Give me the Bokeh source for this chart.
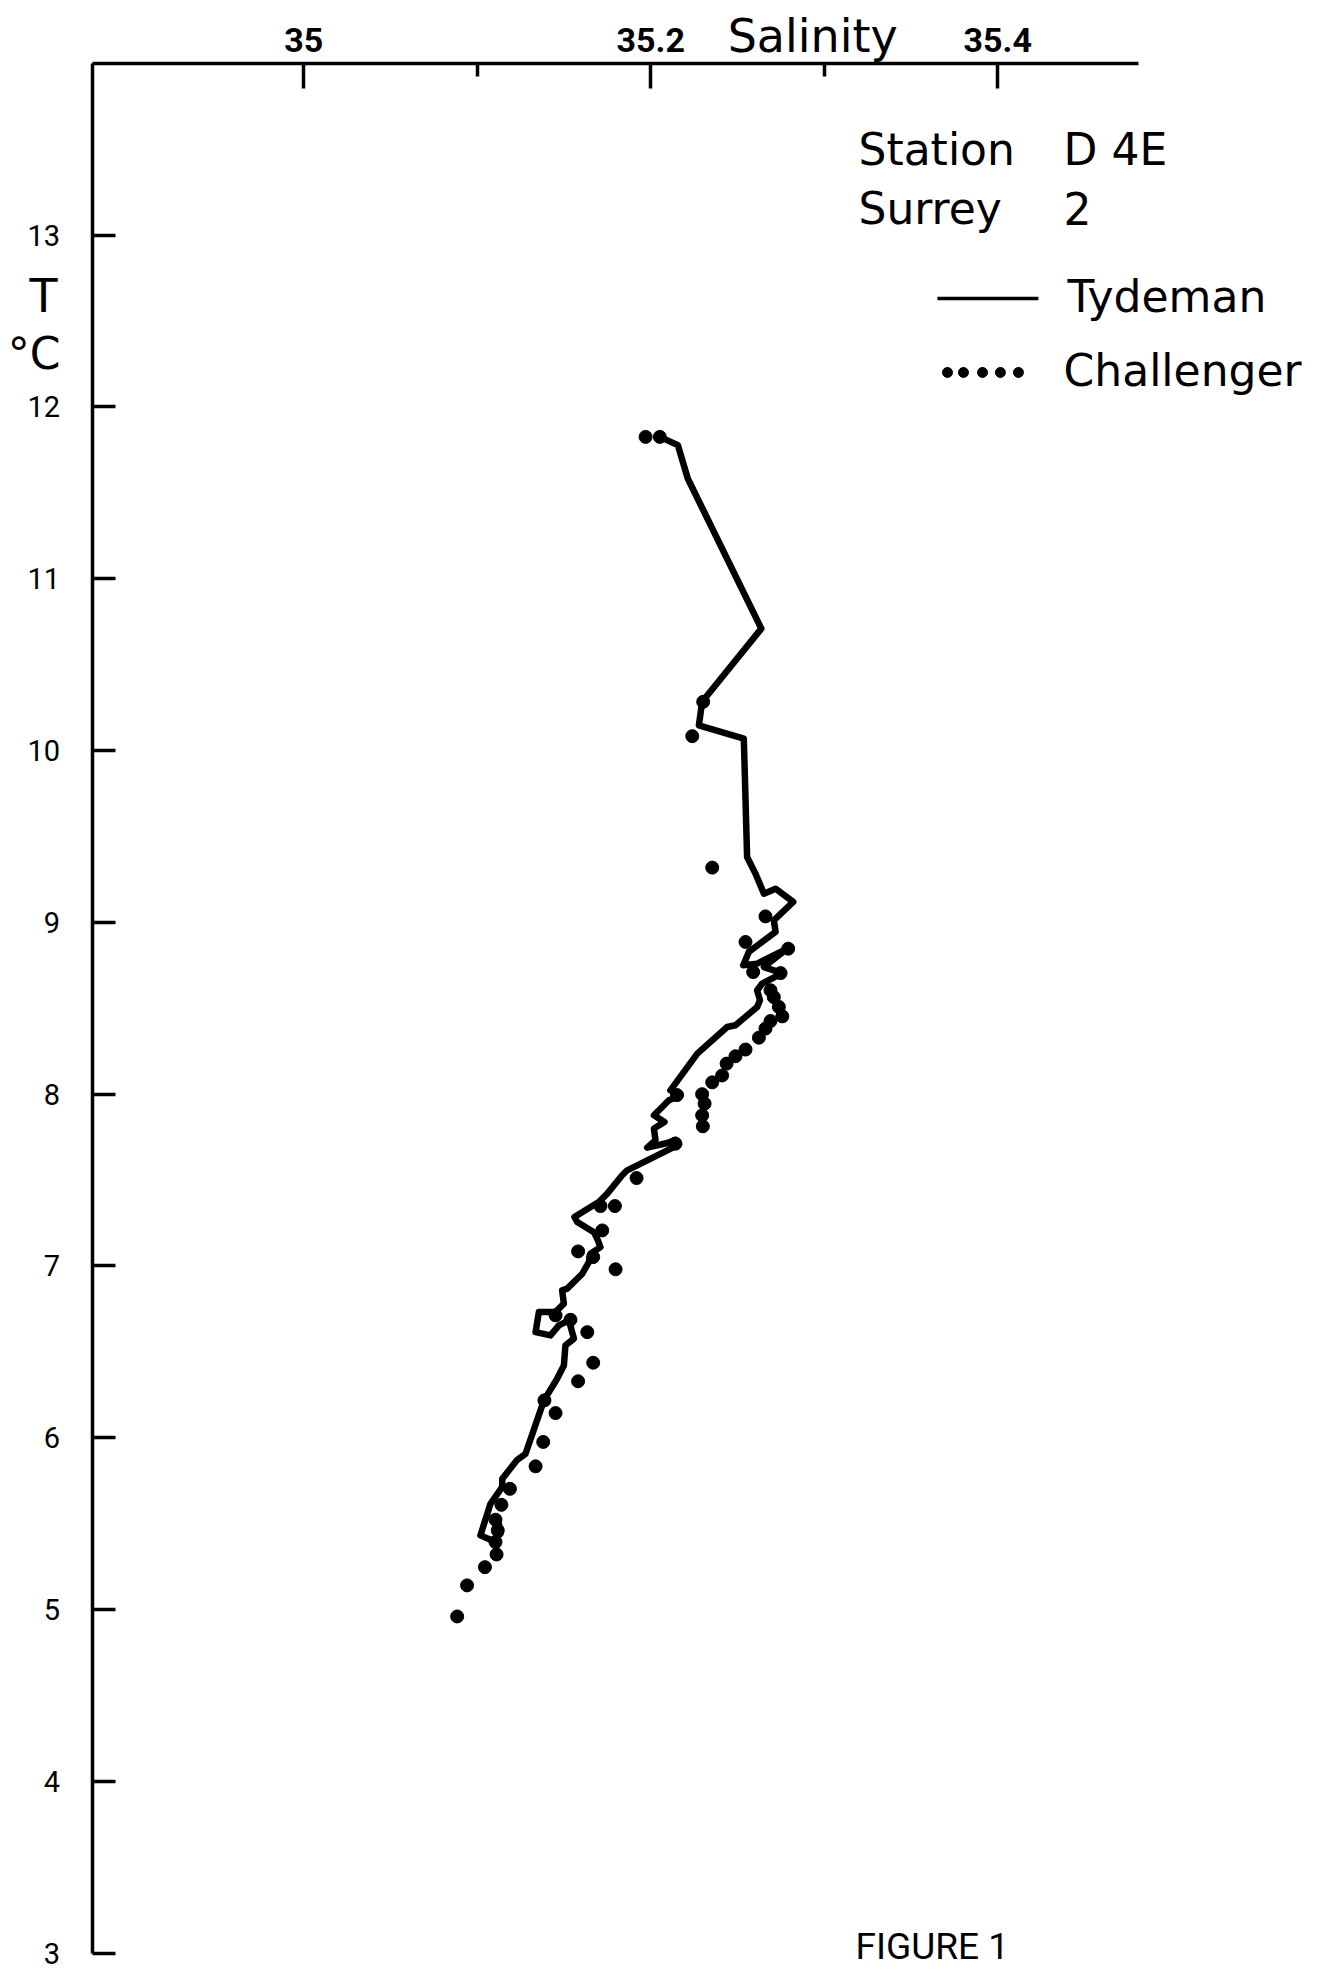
from bokeh.plotting import figure
from bokeh.models import Range1d, FixedTicker, Label, LinearAxis
from bokeh.embed import file_html
from bokeh.resources import INLINE

# ---------------- data ----------------
tydeman_salinity = [35.2052, 35.2156, 35.2213, 35.2637, 35.2296, 35.2277, 35.2536, 35.2538,
                    35.2555, 35.2603, 35.2652, 35.2719, 35.2821, 35.2709, 35.2719, 35.2565,
                    35.2533, 35.2613, 35.2786, 35.2652, 35.2758, 35.2642, 35.2613, 35.2629,
                    35.2613, 35.2488, 35.2440, 35.2268, 35.2113, 35.2171, 35.2104, 35.2066,
                    35.2018, 35.2079, 35.2018, 35.2027, 35.1979, 35.2095, 35.2142, 35.2162,
                    35.2095, 35.1864, 35.1835, 35.1749, 35.1700, 35.1560, 35.1576, 35.1672,
                    35.1691, 35.1710, 35.1652, 35.1643, 35.1605, 35.1518, 35.1489, 35.1499,
                    35.1451, 35.1355, 35.1336, 35.1422, 35.1470, 35.1528, 35.1557, 35.1508,
                    35.1499, 35.1460, 35.1384, 35.1278, 35.1230, 35.1144, 35.1144, 35.1076,
                    35.1018, 35.1086, 35.1134, 35.1124]
tydeman_temperature = [11.826, 11.778, 11.584, 10.710, 10.284, 10.147, 10.070, 10.002,
                       9.381, 9.284, 9.167, 9.196, 9.119, 9.012, 8.945, 8.828,
                       8.750, 8.760, 8.847, 8.740, 8.705, 8.644, 8.605, 8.547,
                       8.508, 8.401, 8.391, 8.236, 8.022, 7.993, 7.965, 7.926,
                       7.877, 7.838, 7.800, 7.732, 7.689, 7.716, 7.735, 7.708,
                       7.673, 7.557, 7.528, 7.421, 7.372, 7.285, 7.256, 7.197,
                       7.159, 7.110, 7.071, 7.023, 6.955, 6.868, 6.858, 6.781,
                       6.732, 6.732, 6.615, 6.596, 6.654, 6.683, 6.577, 6.538,
                       6.421, 6.344, 6.218, 5.907, 5.872, 5.762, 5.714, 5.616,
                       5.432, 5.402, 5.442, 5.500]

challenger_salinity = [35.1970, 35.2052, 35.2302, 35.2239, 35.2354, 35.2661, 35.2546, 35.2792,
                       35.2590, 35.2748, 35.2690, 35.2709, 35.2738, 35.2758, 35.2690, 35.2661,
                       35.2623, 35.2546, 35.2488, 35.2437, 35.2411, 35.2354, 35.2296, 35.2310,
                       35.2296, 35.2300, 35.2151, 35.2142, 35.1918, 35.1793, 35.1710, 35.1720,
                       35.1581, 35.1668, 35.1797, 35.1451, 35.1537, 35.1634, 35.1668, 35.1581,
                       35.1387, 35.1451, 35.1380, 35.1336, 35.1188, 35.1139, 35.1105, 35.1118,
                       35.1105, 35.1111, 35.1044, 35.0941, 35.0884]
challenger_temperature = [11.826, 11.826, 10.284, 10.084, 9.319, 9.035, 8.886, 8.847,
                          8.711, 8.705, 8.605, 8.565, 8.508, 8.453, 8.426, 8.382,
                          8.329, 8.260, 8.221, 8.178, 8.109, 8.069, 8.000, 7.945,
                          7.877, 7.813, 7.995, 7.712, 7.512, 7.349, 7.349, 7.207,
                          7.085, 7.052, 6.981, 6.713, 6.687, 6.615, 6.437, 6.329,
                          6.218, 6.144, 5.976, 5.834, 5.703, 5.610, 5.523, 5.461,
                          5.393, 5.321, 5.247, 5.141, 4.960]

salinity_ticks = [35.0, 35.2, 35.4]
salinity_minor_ticks = [35.1, 35.3]
salinity_axis_bounds = (34.878, 35.481)
temperature_ticks = [3, 4, 5, 6, 7, 8, 9, 10, 11, 12, 13]
temperature_axis_bounds = (3.0, 14.0)

# ---------------- figure ----------------
# frame covers the whole canvas; the axes are pinned with fixed_location
p = figure(width=1310, height=1971,
           x_range=Range1d(34.82519, 35.58023), y_range=Range1d(2.89348, 14.36612),
           x_axis_type=None, y_axis_type=None,
           min_border=0, min_border_left=0, min_border_right=0,
           min_border_top=0, min_border_bottom=0,
           output_backend="svg", toolbar_location=None)
p.outline_line_color = None
p.background_fill_color = "white"
p.border_fill_color = "white"

xa = LinearAxis(fixed_location=temperature_axis_bounds[1], bounds=salinity_axis_bounds)
xa.ticker = FixedTicker(ticks=salinity_ticks, minor_ticks=salinity_minor_ticks)
xa.major_tick_in = 25
xa.major_tick_out = 0
xa.minor_tick_in = 13
xa.minor_tick_out = 0
xa.axis_line_width = 3.5
xa.major_tick_line_width = 3.5
xa.minor_tick_line_width = 3.5
xa.axis_line_color = "black"
xa.major_tick_line_color = "black"
xa.minor_tick_line_color = "black"
xa.major_label_text_font = "Roboto"
xa.major_label_text_font_size = "34px"
xa.major_label_text_font_style = "bold"
xa.major_label_text_color = "black"
xa.major_label_standoff = 11
xa.major_label_overrides = {35.0: "35", 35.2: "35.2", 35.4: "35.4"}
p.add_layout(xa, "above")

ya = LinearAxis(fixed_location=salinity_axis_bounds[0], bounds=temperature_axis_bounds)
ya.ticker = FixedTicker(ticks=temperature_ticks)
ya.major_tick_in = 23
ya.major_tick_out = 0
ya.minor_tick_line_color = None
ya.axis_line_width = 3.5
ya.major_tick_line_width = 3.5
ya.axis_line_color = "black"
ya.major_tick_line_color = "black"
ya.major_label_text_font = "Roboto"
ya.major_label_text_font_size = "29px"
ya.major_label_text_color = "black"
ya.major_label_standoff = 32
p.add_layout(ya, "left")

# ---------------- data marks ----------------
p.line(tydeman_salinity, tydeman_temperature, line_width=6.5, line_color="black",
       line_join="round", line_cap="round")
p.scatter(challenger_salinity, challenger_temperature, size=13, marker="circle",
          fill_color="black", line_color="black")

# ---------------- legend samples ----------------
p.line([35.3652, 35.4234], [12.631, 12.631], line_width=3.5, line_color="black")
p.scatter([35.3710, 35.3802, 35.3912, 35.4015, 35.4119], [12.201] * 5, size=10,
          marker="circle", fill_color="black", line_color="black")

# ---------------- texts ----------------
def add_label(x, y, text, size, font="DejaVu Sans", align="left", baseline="alphabetic", style="normal"):
    p.add_layout(Label(x=x, y=y, text=text, text_font=font, text_font_size=size,
                       text_align=align, text_baseline=baseline, text_color="black",
                       text_font_style=style, level="overlay"))

add_label(35.2443, 14.158, "Salinity", "46px")
add_label(35.3197, 13.500, "Station", "44px")
add_label(35.4379, 13.500, "D 4E", "44px")
add_label(35.3197, 13.156, "Surrey", "44px")
add_label(35.4379, 13.156, "2", "44px")
add_label(35.4402, 12.644, "Tydeman", "44px")
add_label(35.4379, 12.214, "Challenger", "44px")
add_label(34.8500, 12.649, "T", "46px", align="center")
add_label(34.8445, 12.312, "°C", "44px", align="center")
add_label(35.318, 3.040, "FIGURE 1", "37px", font="Roboto")

open("out.html", "w").write(file_html(p, INLINE))
